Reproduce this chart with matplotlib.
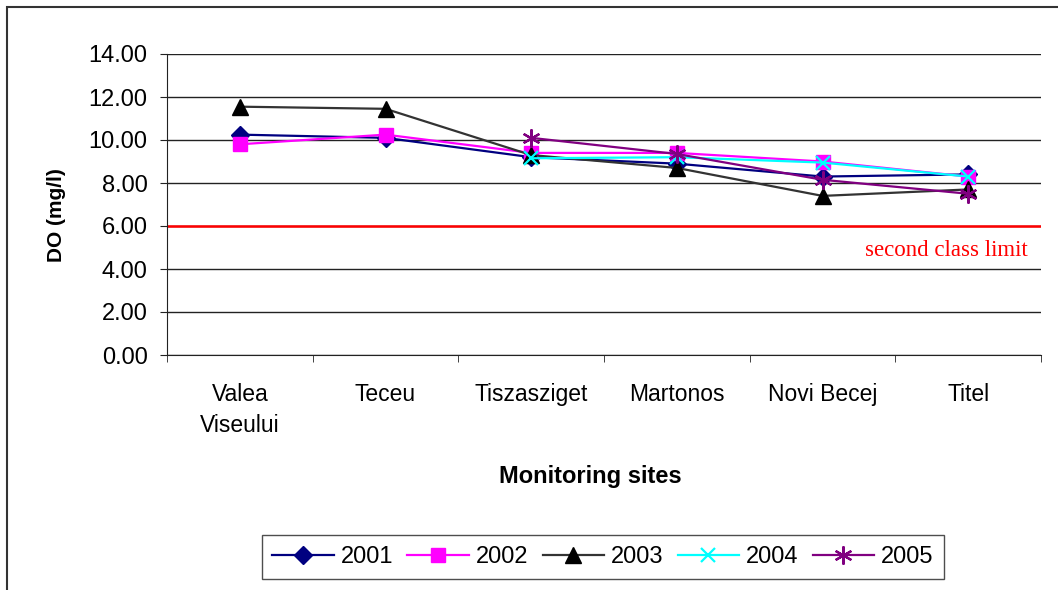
import numpy as np
import matplotlib
matplotlib.use('Agg')
import matplotlib.pyplot as plt
from matplotlib.patches import Rectangle

# monitoring sites and DO values (mg/l)
sites = ['Valea\nViseului', 'Teceu', 'Tiszasziget', 'Martonos', 'Novi Becej', 'Titel']
do_2001 = [10.25, 10.1, 9.2, 8.9, 8.3, 8.4]
do_2002 = [9.8, 10.25, 9.4, 9.4, 9.0, 8.3]
do_2003 = [11.55, 11.45, 9.3, 8.7, 7.4, 7.7]
do_2004 = [np.nan, np.nan, 9.15, 9.2, 8.95, 8.3]
do_2005 = [np.nan, np.nan, 10.1, 9.35, 8.15, 7.5]
limit = 6.0

plt.rcParams['font.family'] = ['Liberation Sans', 'DejaVu Sans']

fig = plt.figure(figsize=(10.58, 5.90), dpi=100)
ax = fig.add_axes([167/1058, 1-355/590, (1041-167)/1058, (355-54)/590])

# outer chart frame (cut off at right and bottom like the original)
fig.patches.append(Rectangle((7/1058, -0.1), 1.2, 1-7/590+0.1, transform=fig.transFigure,
                             fill=False, edgecolor='#333333', linewidth=1.5))

x = np.arange(len(sites))
series = [
    ('2001', do_2001, '#000080', 'D', 9),
    ('2002', do_2002, '#ff00ff', 's', 10),
    ('2003', do_2003, '#333333', '^', 12),
    ('2004', do_2004, '#00ffff', 'x', 10),
    ('2005', do_2005, '#800080', (6, 2, 0), 13),
]
for name, vals, col, mk, ms in series:
    mfc = '#000000' if name == '2003' else col
    ax.plot(x, vals, color=col, linewidth=1.6, marker=mk, markersize=ms,
            markerfacecolor=mfc, markeredgecolor=mfc, markeredgewidth=1.6 if mk in ('x', (6, 2, 0)) else 1,
            label=name, zorder=3)

ax.axhline(limit, color='red', linewidth=1.8, zorder=2)
ax.text(5.41, 4.88, 'second class limit', color='red', fontsize=16.5,
        family=['Liberation Serif', 'DejaVu Serif'], ha='right', va='center')

ax.set_xlim(-0.5, 5.5)
ax.set_ylim(0, 14)
ax.set_yticks(np.arange(0, 15, 2))
ax.set_yticklabels(['%.2f' % v for v in np.arange(0, 15, 2)])
ax.yaxis.grid(True, color='#222222', linewidth=1)
ax.set_axisbelow(True)
ax.set_xticks(x)
ax.set_xticklabels(sites, linespacing=1.45)
ax.set_xticks(np.arange(-0.5, 6, 1), minor=True)
ax.tick_params(axis='x', which='major', length=0, pad=20, labelsize=16.5)
ax.tick_params(axis='x', which='minor', length=5, direction='out', color='#222222')
ax.tick_params(axis='y', length=5, pad=9, labelsize=17, color='#222222')
for s in ['top', 'right']:
    ax.spines[s].set_visible(False)
for s in ['left', 'bottom']:
    ax.spines[s].set_color('#222222')

ax.set_ylabel('DO (mg/l)', fontsize=15, fontweight='bold')
ax.yaxis.set_label_coords(56/1058, 1-215/590, transform=fig.transFigure)
ax.set_xlabel('Monitoring sites', fontsize=17, fontweight='bold')
ax.xaxis.set_label_coords(590/1058, 1-477/590, transform=fig.transFigure)
ax.xaxis.label.set_va('center')
ax.yaxis.label.set_va('center')

leg = ax.legend(loc='center', bbox_to_anchor=(603/1058, 1-557/590), bbox_transform=fig.transFigure,
                ncol=5, fontsize=17, frameon=True, fancybox=False, edgecolor='#222222',
                handlelength=2.6, columnspacing=0.6, handletextpad=0.3, borderpad=0.45)
leg.get_frame().set_linewidth(1)

fig.savefig('out.png', dpi=100)
